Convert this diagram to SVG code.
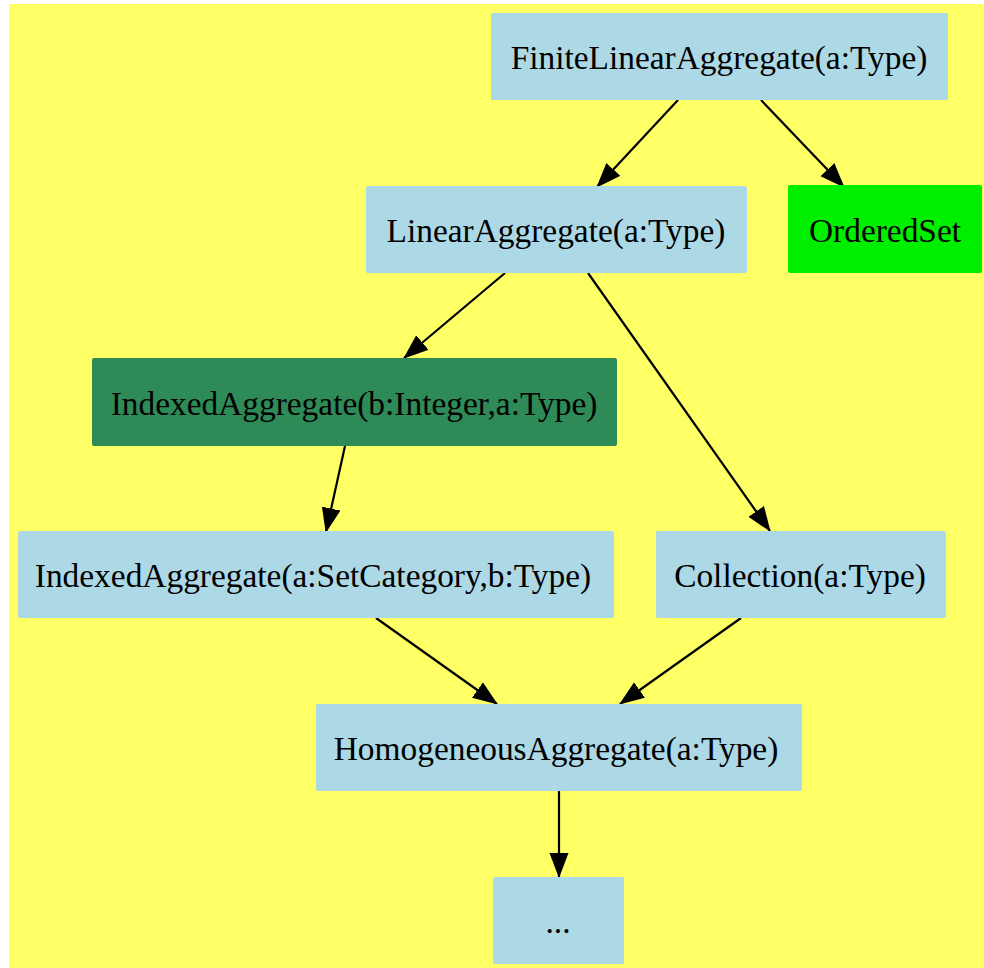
<svg xmlns="http://www.w3.org/2000/svg" width="984" height="968" viewBox="0 0 984 968">
<style>
.n{fill:#add8e6}
.t{font-family:"Liberation Serif","Times New Roman",serif;font-size:33.4px;fill:#000;text-anchor:middle}
.e{stroke:#000;stroke-width:2.2;fill:none;marker-end:url(#ah)}
</style>
<defs>
<marker id="ah" markerUnits="userSpaceOnUse" markerWidth="25" markerHeight="20" refX="24" refY="10" orient="auto">
<path d="M0,0.5 L25,10 L0,19.5 z" fill="#000"/>
</marker>
</defs>
<rect x="9" y="4" width="975" height="964" fill="#ffff66"/>
<g id="connectors">
<line class="e" x1="678" y1="100" x2="597" y2="187"/>
<line class="e" x1="761" y1="100" x2="844" y2="187"/>
<line class="e" x1="505" y1="273" x2="404" y2="358"/>
<line class="e" x1="588" y1="273" x2="770" y2="531"/>
<line class="e" x1="345" y1="446" x2="326" y2="532"/>
<line class="e" x1="376" y1="618" x2="497" y2="704"/>
<line class="e" x1="741" y1="618" x2="620" y2="704"/>
<line class="e" x1="559" y1="791" x2="559" y2="877"/>
</g>
<g id="n1"><rect class="n" x="491" y="13" width="457" height="87" rx="2"/><text class="t" x="719" y="69">FiniteLinearAggregate(a:Type)</text></g>
<g id="n2"><rect class="n" x="366" y="186" width="381" height="87" rx="2"/><text class="t" x="556" y="242">LinearAggregate(a:Type)</text></g>
<g id="n3"><rect x="788" y="185" width="194" height="88" rx="2" fill="#00ee00"/><text class="t" x="885" y="242">OrderedSet</text></g>
<g id="n4"><rect x="92" y="358" width="525" height="88" rx="2" fill="#2e8b57"/><text class="t" x="354" y="415">IndexedAggregate(b:Integer,a:Type)</text></g>
<g id="n5"><rect class="n" x="18" y="531" width="596" height="87" rx="2"/><text class="t" x="313" y="587">IndexedAggregate(a:SetCategory,b:Type)</text></g>
<g id="n6"><rect class="n" x="656" y="531" width="290" height="87" rx="2"/><text class="t" x="800" y="587">Collection(a:Type)</text></g>
<g id="n7"><rect class="n" x="316" y="704" width="486" height="87" rx="2"/><text class="t" x="556" y="760">HomogeneousAggregate(a:Type)</text></g>
<g id="n8"><rect class="n" x="493" y="877" width="131" height="87" rx="2"/><text class="t" x="558" y="933">...</text></g>
</svg>
